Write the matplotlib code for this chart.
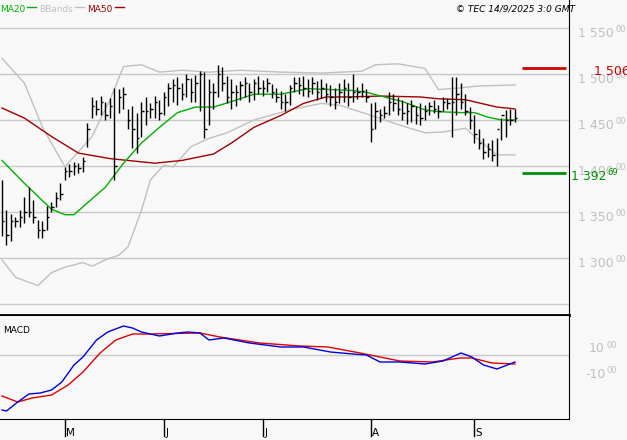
import numpy as np
import matplotlib.pyplot as plt

# daily bars (high / low / close)
high = [1385, 1352, 1348, 1345, 1352, 1366, 1377, 1363, 1341, 1340,
        1357, 1361, 1372, 1381, 1399, 1402, 1404, 1403, 1410, 1447,
        1475, 1472, 1476, 1470, 1474, 1485, 1484, 1486, 1462, 1465,
        1458, 1470, 1475, 1468, 1476, 1472, 1480, 1490, 1494, 1497,
        1490, 1500, 1496, 1499, 1503, 1502, 1495, 1490, 1510, 1508,
        1498, 1495, 1488, 1492, 1497, 1490, 1495, 1498, 1493, 1496,
        1489, 1485, 1482, 1478, 1488, 1497, 1497, 1498, 1494, 1497,
        1492, 1495, 1490, 1488, 1485, 1490, 1494, 1490, 1500, 1486,
        1490, 1484, 1468, 1470, 1462, 1465, 1480, 1478, 1475, 1472,
        1468, 1472, 1465, 1468, 1466, 1470, 1472, 1466, 1475, 1474,
        1497, 1497, 1490, 1478, 1464, 1455, 1440, 1430, 1425, 1428,
        1430, 1452, 1461, 1462, 1462]
low = [1324, 1314, 1318, 1334, 1334, 1338, 1344, 1338, 1322, 1322,
       1330, 1350, 1355, 1363, 1385, 1388, 1390, 1392, 1393, 1421,
       1452, 1455, 1455, 1450, 1452, 1385, 1458, 1462, 1440, 1420,
       1414, 1432, 1445, 1452, 1452, 1450, 1455, 1465, 1470, 1466,
       1472, 1475, 1470, 1470, 1460, 1430, 1445, 1462, 1475, 1482,
       1468, 1462, 1465, 1472, 1475, 1470, 1472, 1478, 1476, 1480,
       1474, 1470, 1462, 1460, 1466, 1480, 1478, 1476, 1475, 1478,
       1472, 1474, 1470, 1465, 1462, 1468, 1470, 1465, 1470, 1473,
       1475, 1470, 1426, 1440, 1448, 1452, 1455, 1460, 1455, 1450,
       1446, 1448, 1446, 1444, 1450, 1455, 1458, 1452, 1460, 1462,
       1432, 1455, 1462, 1455, 1440, 1425, 1418, 1408, 1410, 1405,
       1400, 1428, 1431, 1444, 1448]
close = [1340, 1325, 1340, 1340, 1345, 1350, 1350, 1345, 1330, 1330,
         1345, 1355, 1365, 1370, 1395, 1395, 1400, 1398, 1405, 1440,
         1465, 1462, 1470, 1455, 1465, 1400, 1475, 1478, 1450, 1440,
         1430, 1460, 1460, 1462, 1470, 1458, 1475, 1485, 1488, 1485,
         1478, 1495, 1480, 1490, 1500, 1440, 1480, 1480, 1500, 1490,
         1475, 1480, 1480, 1488, 1490, 1480, 1490, 1485, 1485, 1490,
         1480, 1475, 1470, 1470, 1485, 1490, 1488, 1485, 1482, 1490,
         1480, 1485, 1478, 1475, 1470, 1480, 1485, 1475, 1480, 1480,
         1482, 1475, 1440, 1460, 1455, 1458, 1470, 1468, 1462, 1458,
         1460, 1465, 1455, 1452, 1460, 1465, 1462, 1460, 1470, 1468,
         1470, 1478, 1470, 1460, 1450, 1435, 1425, 1415, 1418, 1412,
         1440, 1455, 1450, 1450, 1452]

ma20_day = [0, 5, 11, 14, 16, 19, 23, 27, 31, 35, 39, 43, 47, 51, 56, 62, 64, 68,
            73, 78, 81, 85, 89, 94, 97, 102, 105, 108, 111, 114]
ma20 = [1406, 1381, 1353, 1347, 1347, 1360, 1377, 1403, 1425, 1442, 1458, 1464,
        1464, 1470, 1478, 1478, 1480, 1484, 1483, 1482, 1480, 1475, 1470, 1461,
        1459, 1458, 1458, 1453, 1450, 1450]
ma50_day = [0, 5, 11, 17, 24, 34, 40, 47, 51, 56, 62, 67, 72, 77, 84, 93, 97, 103,
            110, 114]
ma50 = [1463, 1452, 1432, 1414, 1408, 1403, 1406, 1413, 1425, 1442, 1455, 1468,
        1475, 1475, 1476, 1475, 1473, 1472, 1464, 1462]
bb_up_day = [0, 5, 9, 14, 20, 24, 27, 31, 35, 40, 46, 53, 62, 71, 80, 83, 88, 94,
             97, 102, 106, 114]
bb_up = [1517, 1490, 1442, 1399, 1432, 1472, 1508, 1510, 1502, 1504, 1502, 1504,
         1502, 1501, 1503, 1510, 1511, 1506, 1483, 1485, 1487, 1488]
bb_lo_day = [0, 3, 8, 11, 14, 18, 20, 23, 26, 28, 31, 33, 36, 38, 42, 46, 50, 56,
             64, 71, 75, 82, 88, 94, 98, 103, 106, 110, 114]
bb_lo = [1298, 1279, 1270, 1284, 1290, 1295, 1291, 1298, 1303, 1312, 1352, 1385,
         1401, 1399, 1421, 1430, 1436, 1450, 1461, 1468, 1466, 1455, 1445, 1436,
         1437, 1441, 1428, 1412, 1412]

macd_day = [0, 1, 3.5, 6, 8.5, 11, 13.3, 16, 18, 21, 23.5, 27, 29, 31, 35, 39, 41.3,
            44, 46, 49.3, 55, 62, 67, 73, 78, 81, 84, 88.4, 94, 98, 102, 104.4, 107,
            110, 114]
macd = [-40.4, -41.2, -34, -27.6, -26.8, -24.4, -18, -4.4, 2, 15.6, 22, 26.8, 25.2,
        22, 18.8, 21.2, 22, 21.2, 15.6, 17.2, 13.2, 10, 10, 6, 4.4, 3.6, -2, -2,
        -3.6, -1.2, 5.2, 2, -4.4, -7.6, -2]
signal_day = [0, 3.5, 6.7, 11, 14.7, 18, 21.8, 25.3, 29, 32.4, 44, 48.4, 57.3, 66.2,
              72.4, 79.6, 84, 88.4, 95.6, 101.8, 104.4, 108.9, 114]
signal = [-29.2, -34, -30.8, -28.4, -20.4, -10, 5.2, 15.6, 20.4, 20.4, 21.2, 18,
          13.2, 10.8, 10, 5.2, 2, -1.2, -2, 1.2, 1.2, -2.8, -3.6]

month_day = [14, 36, 58, 82, 105]
month_lbl = ['M', 'J', 'J', 'A', 'S']
price_ticks = [1550, 1500, 1450, 1400, 1350, 1300]
res_level, sup_level = 1506.9, 1392.69

W, H = 627, 440
bg = '#f8f8f8'
grid = '#c8c8c8'
fig = plt.figure(figsize=(W / 100, H / 100), dpi=100, facecolor=bg)
ax = fig.add_axes([0, (H - 315) / H, 569 / W, 315 / H])
ax2 = fig.add_axes([0, 21 / H, 569 / W, 103 / H])
for a in (ax, ax2):
    a.set_facecolor(bg)
    a.set_xlim(-0.44, 126)
    a.set_xticks([])
    a.set_yticks([])
    for s in ('left', 'top'):
        a.spines[s].set_visible(False)
ax.spines['bottom'].set_linewidth(2)

ax.set_ylim(1238, 1580.4)
for p in price_ticks + [1250]:
    ax.axhline(p, color=grid, lw=1, zorder=0)

x = np.arange(len(close))
ax.vlines(x, low, high, color='black', lw=1, zorder=3)
ax.hlines(close, x, x + 0.5, color='black', lw=1, zorder=3)

ax.plot(bb_up_day, bb_up, color='#c0c0c0', lw=1, zorder=1)
ax.plot(bb_lo_day, bb_lo, color='#c0c0c0', lw=1, zorder=1)
ax.plot(ma50_day, ma50, color='#a00000', lw=1, zorder=2)
ax.plot(ma20_day, ma20, color='#00b000', lw=1, zorder=2)

ax.hlines(res_level, 115.6, 125.4, color='#d00000', lw=2)
ax.hlines(sup_level, 115.6, 125.4, color='#009000', lw=2)

fig.canvas.draw()


def ylab(axis, yval, big, small, color, xpix, dy=-6, fs=9):
    ypix = axis.transData.transform((0, yval))[1] + dy * 0 - 0
    ypix = ypix + dy
    t = fig.text(xpix / W, ypix / H, big, color=color, fontsize=fs, va='center', ha='left')
    fig.canvas.draw()
    bb = t.get_window_extent()
    if small:
        fig.text(bb.x1 / W + 0.002, (ypix + 4) / H, small, color=color, fontsize=6,
                 va='center', ha='left')


for p in price_ticks:
    ylab(ax, p, f'{p // 1000} {p % 1000:03d}', '00', '#c0c0c0', 578)
ylab(ax, res_level, '1 506 9', '', '#d00000', 594, dy=-4)
ylab(ax, sup_level, '1 392', '69', '#009000', 571, dy=-4)

# legend & copyright
xp = 0
for name, col in [('MA20', '#00b000'), ('BBands', '#c0c0c0'), ('MA50', '#a00000')]:
    t = fig.text(xp / W, 1 - 9 / H, name, color=col, fontsize=6.5, va='center')
    fig.canvas.draw()
    x1 = t.get_window_extent().x1
    fig.add_artist(plt.Line2D([(x1 + 2) / W, (x1 + 11) / W], [1 - 7 / H] * 2,
                              color=col, lw=1))
    xp = x1 + 14
fig.text(575 / W, 1 - 9 / H, '© TEC 14/9/2025 3:0 GMT', fontsize=6.5,
         style='italic', va='center', ha='right')

# MACD panel
ax2.set_ylim(-47.6, 34.8)
ax2.axhline(3.6, color=grid, lw=1, zorder=0)
ax2.plot(signal_day, signal, color='#e00000', lw=1)
ax2.plot(macd_day, macd, color='#0000e0', lw=1)
ax2.text(0.005, 0.9, 'MACD', transform=ax2.transAxes, fontsize=6.5, va='top')
fig.canvas.draw()
ylab(ax2, 10, '10', '00', '#c0c0c0', 589, dy=-2)
ylab(ax2, -10, '-10', '00', '#c0c0c0', 585, dy=-2)

for d, m in zip(month_day, month_lbl):
    xf = ax2.transData.transform((d, 0))[0] / W
    fig.add_artist(plt.Line2D([xf, xf], [21 / H, 4 / H], color='black', lw=1))
    fig.text(xf + 0.002, 2 / H, m, fontsize=7.5, va='bottom', ha='left')

fig.savefig('out.png', dpi=100, facecolor=bg)
